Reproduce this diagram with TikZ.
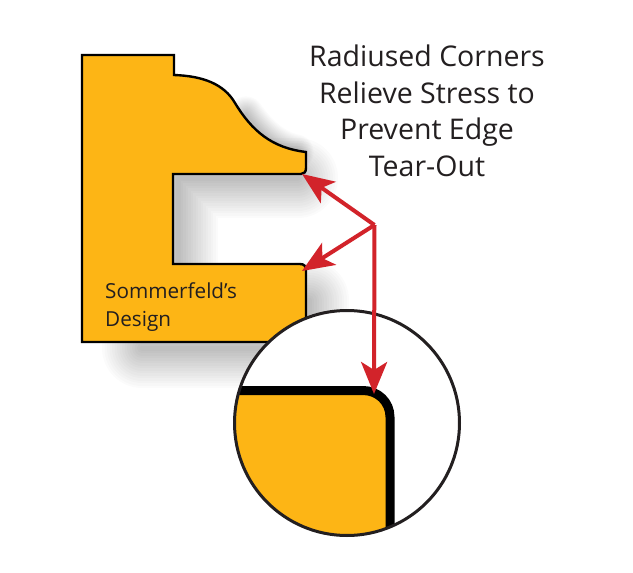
\documentclass[tikz,border=0pt]{standalone}
\usepackage{fontspec}
\setmainfont{Open Sans}
\usetikzlibrary{arrows.meta}
\definecolor{profileorange}{HTML}{FDB515}
\definecolor{arrowred}{HTML}{D2232A}
\definecolor{inkdark}{HTML}{231F20}
\newcommand{\profilepath}{(82,55) -- (174,55) -- (174,75)
  .. controls (203,76) and (224,84) .. (235,103)
  .. controls (252,131) and (272,148) .. (306,152)
  -- (306,168) .. controls (306,172) and (304,174) .. (301,174)
  -- (173,174) -- (173,264) -- (300,264)
  .. controls (304,264) and (306,266) .. (306,270)
  -- (306,342) -- (82,342) -- cycle}
\tikzset{
    profile/.style={fill=profileorange,draw=black,line width=2.4pt,line join=miter},
    softedge/.style={draw=black,opacity=0.014,line cap=round,line join=round},
    pointer/.style={draw=arrowred,line width=4pt,-{Stealth[length=32pt,width=26pt,inset=8pt]}},
    callout/.style={text=inkdark,align=center,font=\fontsize{28.5}{36.5}\selectfont},
    caption/.style={text=inkdark,align=left,anchor=north west,inner sep=0pt,font=\fontsize{20.7}{28.5}\selectfont},
  }
\begin{document}
\begin{tikzpicture}[x=1pt,y=-1pt]
  \path[use as bounding box,fill=white] (0,0) rectangle (633,573);

  %SHADOW
  \foreach \i in {1,...,16}{
    \draw[softedge,line width={\i*5pt}] (298,178) -- (178,178) -- (178,275);
    \draw[softedge,line width={\i*5pt}] (309,300) -- (309,348) -- (142,348);
    \draw[softedge,line width={\i*2.2pt}] (246,114) .. controls (260,134) and (276,148) .. (296,152);
  }

  %PROFILE
  \draw[profile] \profilepath;
  \node[caption] (design) at (105,282) {Sommerfeld’s\\Design};
  \node[callout] (title) at (427,111) {Radiused Corners\\Relieve Stress to\\Prevent Edge\\Tear-Out};

  %DETAIL
  \coordinate (centre) at (347,423);
  \fill[white] (centre) circle[radius=112.5];
  \begin{scope}
    \clip (centre) circle[radius=112.5];
    \fill[profileorange] (200,390.5) -- (363,390.5)
      .. controls (378,390.5) and (390,402) .. (390,417) -- (390,560) -- (200,560) -- cycle;
    \draw[black,line width=9pt] (200,390.5) -- (363,390.5)
      .. controls (378,390.5) and (390,402) .. (390,417) -- (390,560);
  \end{scope}
  \draw[inkdark,line width=3pt] (centre) circle[radius=112.5];

  %ARROWS
  \coordinate (hub) at (374.5,225);
  \coordinate (tipupper) at (302,174);
  \coordinate (tiplower) at (302,271);
  \coordinate (tipdetail) at (374,394);
  \draw[pointer] (hub) -- (tipupper);
  \draw[pointer] (hub) -- (tiplower);
  \draw[pointer] (hub) -- (tipdetail);
\end{tikzpicture}
\end{document}
